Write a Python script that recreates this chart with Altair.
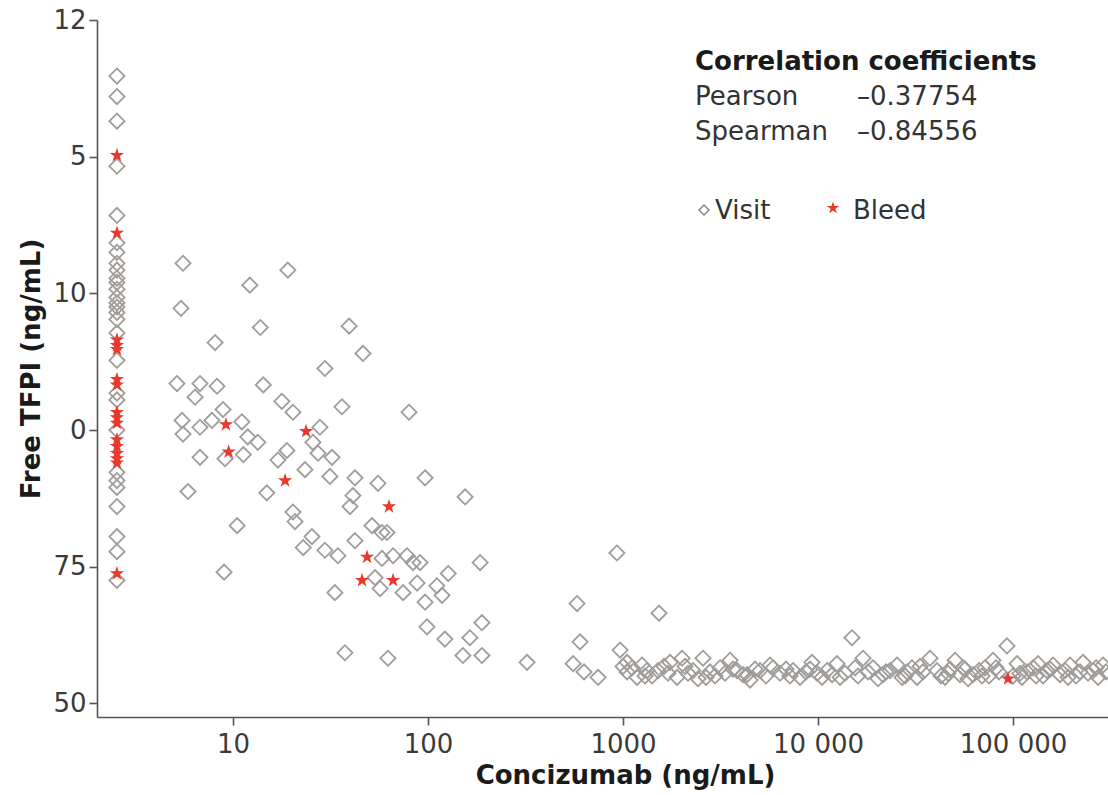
import altair as alt
import pandas as pd

# ---------------- data ----------------
# Free TFPI is on an index scale 0..5 whose tick labels are printed as below
y_tick_values = [0, 1, 2, 3, 4, 5]
y_tick_labels = ["50", "75", "0", "10", "5", "12"]
x_tick_values = [10, 100, 1000, 10000, 100000]
x_tick_labels = ["10", "100", "1000", "10 000", "100 000"]

blq_conc = 2.54  # below-limit concentrations plotted in the left column

col_visit_tfpi = [4.59, 4.44, 4.26, 3.93, 3.57, 3.37, 3.30, 3.22, 3.17, 3.11, 3.08, 3.03,
                  2.97, 2.93, 2.90, 2.86, 2.81, 2.71, 2.51, 2.27, 2.22, 2.00, 1.69, 1.63,
                  1.58, 1.44, 1.22, 1.11, 0.90]
col_bleed_tfpi = [4.01, 3.44, 2.66, 2.62, 2.59, 2.37, 2.33, 2.13, 2.09, 2.05, 1.93, 1.88,
                  1.83, 1.79, 1.76, 0.95]

visit_conc = [5.54, 19.1, 12.2, 5.41, 13.8, 39.4, 8.09, 46.4, 29.6, 5.16, 6.77, 8.28, 6.39,
              14.3, 17.8, 20.3, 36.2, 79.9, 5.48, 5.54, 6.77, 7.8, 8.89, 11.1, 11.9, 13.4,
              27.9, 6.77, 9.1, 11.3, 17.0, 18.9, 25.7, 27.3, 32.2, 23.4, 31.4, 42.2, 55.4,
              96.6, 5.88, 14.9, 10.5, 9.0, 155, 41.2, 39.8, 20.3, 20.8, 25.4, 22.9, 29.6,
              34.5, 42.2, 51.6, 58.1, 61.6, 58.1, 66.2, 78.0, 83.8, 91.0, 185, 53.5, 56.8,
              74.5, 87.9, 96.6, 111, 118, 127, 33.3, 98.8, 122, 164, 189, 151, 189, 37.5,
              62.3, 322, 931, 581, 1530, 602, 555, 631, 745,
              966, 1049, 1049, 1112, 1180, 1251, 1327, 1409, 1511, 1623, 1741, 1892, 2008,
              2154, 2285, 2424, 2572, 2793, 2963, 3143, 3334, 3537, 3844, 4125, 4481, 4754,
              5043, 5411, 5879, 6387, 6853, 7445, 8088, 8680, 9312, 9882, 10490, 11130,
              11810, 12510, 13750, 14930, 16030, 17010, 18050, 19150, 20320, 21550, 23400,
              25420, 26970, 28610, 30350, 32200, 34540, 37510, 40740, 42740, 44790, 47520,
              50420, 53480, 55430, 58800, 62380, 66930, 71820, 75340, 78920, 84720, 93110,
              100000, 104900, 111200, 118000, 126700, 134400, 142600, 149400, 160400,
              174200, 184800, 196100, 210500, 228600, 242400, 257200, 272900, 289500, 299800,
              1000, 1297, 1702, 2080, 2666, 3664, 4325, 5675, 7183, 9098, 12970, 15480,
              22320, 27940, 33380, 46430, 56750, 69340, 81810, 108600, 131300, 154900,
              191500, 220600, 266500]
visit_tfpi = [3.22, 3.17, 3.06, 2.89, 2.75, 2.76, 2.64, 2.56, 2.45, 2.34, 2.34, 2.32, 2.24,
              2.33, 2.21, 2.13, 2.17, 2.13, 2.07, 1.97, 2.02, 2.07, 2.15, 2.06, 1.95, 1.91,
              2.02, 1.80, 1.79, 1.82, 1.78, 1.85, 1.91, 1.83, 1.80, 1.71, 1.66, 1.65, 1.61,
              1.65, 1.55, 1.54, 1.30, 0.96, 1.51, 1.52, 1.44, 1.40, 1.33, 1.22, 1.14, 1.12,
              1.08, 1.19, 1.30, 1.25, 1.25, 1.06, 1.08, 1.08, 1.03, 1.03, 1.03, 0.92, 0.84,
              0.81, 0.88, 0.74, 0.86, 0.79, 0.95, 0.81, 0.56, 0.47, 0.48, 0.59, 0.35, 0.35,
              0.37, 0.33, 0.30, 1.10, 0.73, 0.66, 0.45, 0.29, 0.23, 0.19,
              0.39, 0.30, 0.23, 0.26, 0.19, 0.28, 0.24, 0.20, 0.24, 0.27, 0.30, 0.19, 0.33,
              0.22, 0.24, 0.18, 0.33, 0.23, 0.20, 0.26, 0.22, 0.315, 0.24, 0.21, 0.17, 0.25,
              0.24, 0.20, 0.26, 0.22, 0.25, 0.24, 0.19, 0.23, 0.30, 0.22, 0.19, 0.24,
              0.21, 0.29, 0.22, 0.48, 0.20, 0.33, 0.23, 0.26, 0.18, 0.21, 0.24,
              0.28, 0.19, 0.23, 0.26, 0.19, 0.23, 0.33, 0.24, 0.20, 0.19, 0.25,
              0.315, 0.21, 0.26, 0.18, 0.21, 0.24, 0.26, 0.20, 0.315, 0.23, 0.42,
              0.20, 0.29, 0.19, 0.23, 0.26, 0.29, 0.20, 0.24, 0.28,
              0.21, 0.24, 0.28, 0.20, 0.30, 0.22, 0.24, 0.19, 0.28, 0.23,
              0.27, 0.20, 0.22, 0.27, 0.19, 0.25, 0.21, 0.28, 0.20, 0.25, 0.19, 0.26,
              0.23, 0.20, 0.27, 0.22, 0.25, 0.20, 0.26, 0.22, 0.20, 0.25,
              0.19, 0.23, 0.26]

bleed_conc = [9.2, 9.5, 18.5, 23.7, 63.1, 48.7, 45.9, 66.2, 94250]
bleed_tfpi = [2.04, 1.84, 1.63, 1.99, 1.44, 1.07, 0.90, 0.90, 0.18]

pearson = "–0.37754"
spearman = "–0.84556"

# ---------------- tables ----------------
visits = pd.DataFrame({
    "conc": [blq_conc] * len(col_visit_tfpi) + visit_conc,
    "tfpi": col_visit_tfpi + visit_tfpi,
})
bleeds = pd.DataFrame({
    "conc": [blq_conc] * len(col_bleed_tfpi) + bleed_conc,
    "tfpi": col_bleed_tfpi + bleed_tfpi,
})

FONT = "DejaVu Sans"
GREY = "#a09c99"
RED = "#e8392c"
STAR = ("M0,-1L0.225,-0.309L0.951,-0.309L0.363,0.118L0.588,0.809L0,0.382"
        "L-0.588,0.809L-0.363,0.118L-0.951,-0.309L-0.225,-0.309Z")

y_expr = "".join(
    f"datum.value == {v} ? '{t}' : " for v, t in zip(y_tick_values, y_tick_labels)
) + "''"
x_expr = "".join(
    f"datum.value == {v} ? '{t}' : " for v, t in zip(x_tick_values, x_tick_labels)
) + "''"

ox, oy = 97, 20  # plot origin inside the page

x_enc = alt.X(
    "conc:Q",
    scale=alt.Scale(type="log", domain=[2.007, 306900], nice=False),
    axis=alt.Axis(values=x_tick_values, labelExpr=x_expr, title="Concizumab (ng/mL)",
                  grid=False, tickSize=8, labelPadding=6, titlePadding=5,
                  titleX=625 - ox, titleAlign="center",
                  labelFlush=False, labelOverlap=False),
)
y_enc = alt.Y(
    "tfpi:Q",
    scale=alt.Scale(domain=[-0.1, 5], nice=False, zero=False),
    axis=alt.Axis(values=y_tick_values, labelExpr=y_expr, title="Free TFPI (ng/mL)",
                  grid=False, tickSize=8, labelPadding=3, titlePadding=8,
                  labelFlush=False, labelOverlap=False),
)

visit_layer = alt.Chart(visits).mark_point(
    shape="diamond", size=230, filled=False, stroke=GREY, strokeWidth=1.8, opacity=1
).encode(x=x_enc, y=y_enc)

bleed_layer = alt.Chart(bleeds).mark_point(
    shape=STAR, size=230, filled=True, fill=RED, strokeWidth=0, opacity=1
).encode(x="conc:Q", y="tfpi:Q")


def label(txt, x, y, bold=False, size=26, color="#333333"):
    return alt.Chart(pd.DataFrame({"t": [txt]})).mark_text(
        align="left", baseline="alphabetic", font=FONT, fontSize=size,
        fontWeight="bold" if bold else "normal", color=color
    ).encode(text="t:N", x=alt.value(x), y=alt.value(y))


annotations = [
    label("Correlation coefficients", 695 - ox, 70 - oy, bold=True, color="#1a1a1a"),
    label("Pearson", 695 - ox, 105 - oy),
    label(pearson, 857 - ox, 105 - oy),
    label("Spearman", 695 - ox, 140 - oy),
    label(spearman, 857 - ox, 140 - oy),
    label("Visit", 715 - ox, 219 - oy),
    label("Bleed", 853 - ox, 219 - oy),
]

leg_visit = alt.Chart(pd.DataFrame({"k": ["Visit"]})).mark_point(
    shape="diamond", size=100, filled=False, stroke="#8a8683", strokeWidth=1.5, opacity=1
).encode(x=alt.value(704 - ox), y=alt.value(210 - oy))
leg_bleed = alt.Chart(pd.DataFrame({"k": ["Bleed"]})).mark_point(
    shape=STAR, size=170, filled=True, fill=RED, strokeWidth=0, opacity=1
).encode(x=alt.value(833 - ox), y=alt.value(208 - oy))

chart = alt.layer(visit_layer, bleed_layer, leg_visit, leg_bleed, *annotations).properties(
    width=1108 - ox, height=717 - oy,
    autosize=alt.AutoSizeParams(type="none"),
    padding={"left": ox, "top": oy, "right": 0, "bottom": 795 - 717},
    background="white",
).configure_view(stroke=None).configure_axis(
    domainColor="#555555", domainWidth=1.6, tickColor="#555555", tickWidth=1.6,
    labelFont=FONT, labelFontSize=26, labelColor="#3a3a3a",
    titleFont=FONT, titleFontSize=26, titleFontWeight="bold", titleColor="#1a1a1a",
)

chart.save("out.html", embed_options={"renderer": "svg", "actions": False})
